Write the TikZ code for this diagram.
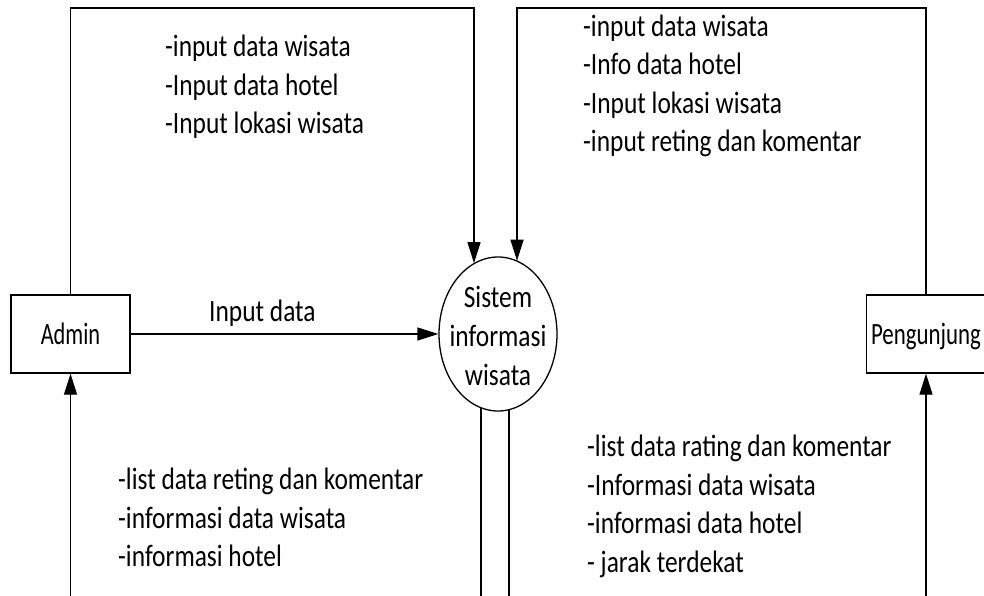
\documentclass[tikz,border=0pt]{standalone}
\usepackage{fontspec}
\setmainfont{Carlito}[FakeStretch=0.82]
\usepackage{graphicx}
\usetikzlibrary{arrows.meta,shapes.geometric,calc}
\begin{document}
\begin{tikzpicture}[x=1pt,y=1pt,
  lbl/.style={font=\fontsize{31}{38.5}\selectfont, inner sep=0pt, align=left, anchor=base west},
  ent/.style={draw, line width=1.3pt, minimum width=119pt, minimum height=78pt, inner sep=0pt, text height=20pt, text depth=0pt, font=\fontsize{31}{38.5}\selectfont},
  proc/.style={draw, ellipse, line width=1.3pt, minimum width=118pt, minimum height=154pt, inner sep=0pt},
  flow/.style={line width=1.3pt},
  arr/.style={flow, -{Triangle[length=21pt,width=13pt]}},
]
\useasboundingbox (0,0) rectangle (984,595);
\fill[white] (0,0) rectangle (984,595);

\node[ent] (admin) at (70.5,261) {\scalebox{0.88}[1]{Admin}};
\node[ent] (peng) at (926,261) {\scalebox{0.9}[1]{Pengunjung}};
\node[proc] (sys) at (498,261) {};
\node[font=\fontsize{31}{39}\selectfont, align=center, inner sep=0pt] (systxt) at ($(sys.center)+(0,-2)$) {Sistem\\informasi\\wisata};

\coordinate (t1) at (474,587);
\coordinate (t2) at (517,587);
\coordinate (b1) at (481,-3);
\coordinate (b2) at (509,-3);
\coordinate (bl) at (70.5,-3);
\coordinate (br) at (926,-3);

\draw[arr] (admin.north) |- (t1) -- (t1 |- sys.109);
\draw[arr] (peng.north) |- (t2) -- (t2 |- sys.75);
\draw[arr] (admin.east) -- (sys.west);
\draw[flow] (b1 |- sys.257) -- (b1);
\draw[flow] (b2 |- sys.278) -- (b2);
\draw[arr] (bl) -- (admin.south);
\draw[arr] (br) -- (peng.south);

\node[lbl] (linput) at (209,274) {Input data};
\node[lbl] (ltl) at (165,461) {-input data wisata\\-Input data hotel\\-Input lokasi wisata};
\node[lbl] (ltr) at (583,443) {-input data wisata\\-Info data hotel\\-Input lokasi wisata\\-input reting dan komentar};
\node[lbl] (lbl1) at (118,28.5) {-list data reting dan komentar\\-informasi data wisata\\-informasi hotel};
\node[lbl] (lbr) at (587,23) {-list data rating dan komentar\\-Informasi data wisata\\-informasi data hotel\\- jarak terdekat};
\end{tikzpicture}
\end{document}
